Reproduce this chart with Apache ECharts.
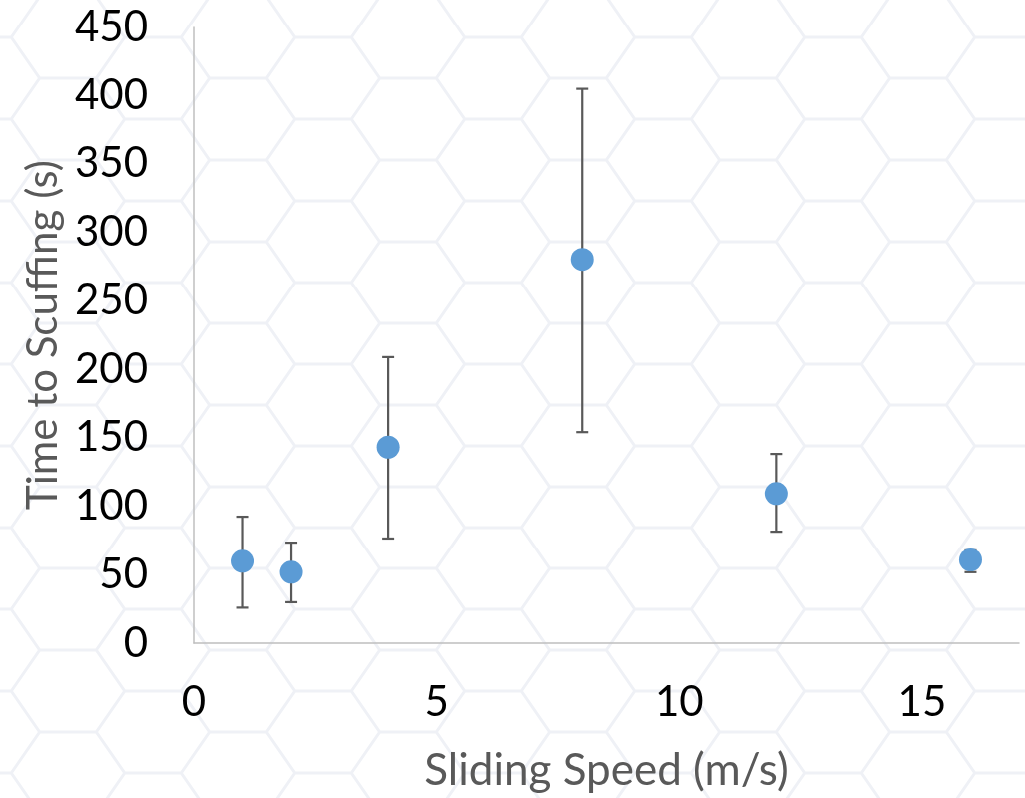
<!DOCTYPE html>
<html>
<head>
<meta charset="utf-8">
<script src="https://cdn.jsdelivr.net/npm/echarts@6/dist/echarts.min.js"></script>
<style>
html,body{margin:0;padding:0;background:#fff;}
#bg{position:absolute;left:0;top:0;width:1025px;height:798px;
background-image:url("data:image/svg+xml;utf8,<svg xmlns='http://www.w3.org/2000/svg' width='170' height='81.7'><path d='M28.3 40.85 L56.7 0 L113.3 0 L141.7 40.85 L113.3 81.7 L56.7 81.7 Z M0 40.85 L28.3 40.85 M141.7 40.85 L170 40.85' fill='none' stroke='%23eff1f6' stroke-width='3'/></svg>");
background-position:153px 78.3px;}
#chart{position:absolute;left:0;top:0;width:1025px;height:798px;}
</style>
</head>
<body>
<div id="bg"></div>
<div id="chart"></div>
<script>
const speeds = [1, 2, 4, 8, 12, 16];
const times = [60, 52, 143, 280, 109, 61];
const errLow = [26, 30, 76, 154, 81, 52];
const errHigh = [92, 73, 209, 405, 138, 68];
const xTitle = 'Sliding Speed (m/s)';
const yTitle = 'Time to Scuffing (s)';

const chart = echarts.init(document.getElementById('chart'), null, {renderer: 'canvas'});
const font = 'Lato';
const pts = speeds.map((x, i) => [x, times[i]]);
const errs = speeds.map((x, i) => [x, errLow[i], errHigh[i]]);

chart.setOption({
  backgroundColor: 'transparent',
  animation: false,
  grid: {left: 194, right: 6, top: 27, bottom: 152, containLabel: false},
  xAxis: {
    type: 'value', min: 0, max: 17, interval: 5,
    axisLine: {show: true, lineStyle: {color: '#bfbfbf', width: 1.5}},
    axisTick: {show: false},
    splitLine: {show: false},
    axisLabel: {fontFamily: font, fontSize: 42, color: '#000', margin: 38, showMaxLabel: false},
    name: xTitle, nameLocation: 'middle', nameGap: 106,
    nameTextStyle: {fontFamily: font, fontSize: 44, color: '#595959'}
  },
  yAxis: {
    type: 'value', min: 0, max: 450, interval: 50,
    axisLine: {show: true, lineStyle: {color: '#bfbfbf', width: 1.5}},
    axisTick: {show: false},
    splitLine: {show: false},
    axisLabel: {fontFamily: font, fontSize: 42, color: '#000', margin: 46},
    name: yTitle, nameLocation: 'middle', nameGap: 130, nameRotate: 90,
    nameTextStyle: {fontFamily: font, fontSize: 42, color: '#595959'}
  },
  series: [
    {
      type: 'custom',
      data: errs,
      renderItem: function (params, api) {
        const x = api.value(0);
        const lo = api.coord([x, api.value(1)]);
        const hi = api.coord([x, api.value(2)]);
        const cap = 6;
        const style = {stroke: '#595959', lineWidth: 2.2};
        return {
          type: 'group',
          children: [
            {type: 'line', shape: {x1: lo[0], y1: lo[1], x2: hi[0], y2: hi[1]}, style: style},
            {type: 'line', shape: {x1: lo[0] - cap, y1: lo[1], x2: lo[0] + cap, y2: lo[1]}, style: style},
            {type: 'line', shape: {x1: hi[0] - cap, y1: hi[1], x2: hi[0] + cap, y2: hi[1]}, style: style}
          ]
        };
      },
      z: 2
    },
    {
      type: 'scatter',
      data: pts,
      symbol: 'circle',
      symbolSize: 23,
      itemStyle: {color: '#5b9bd5', opacity: 1},
      z: 3
    }
  ]
});
</script>
</body>
</html>
